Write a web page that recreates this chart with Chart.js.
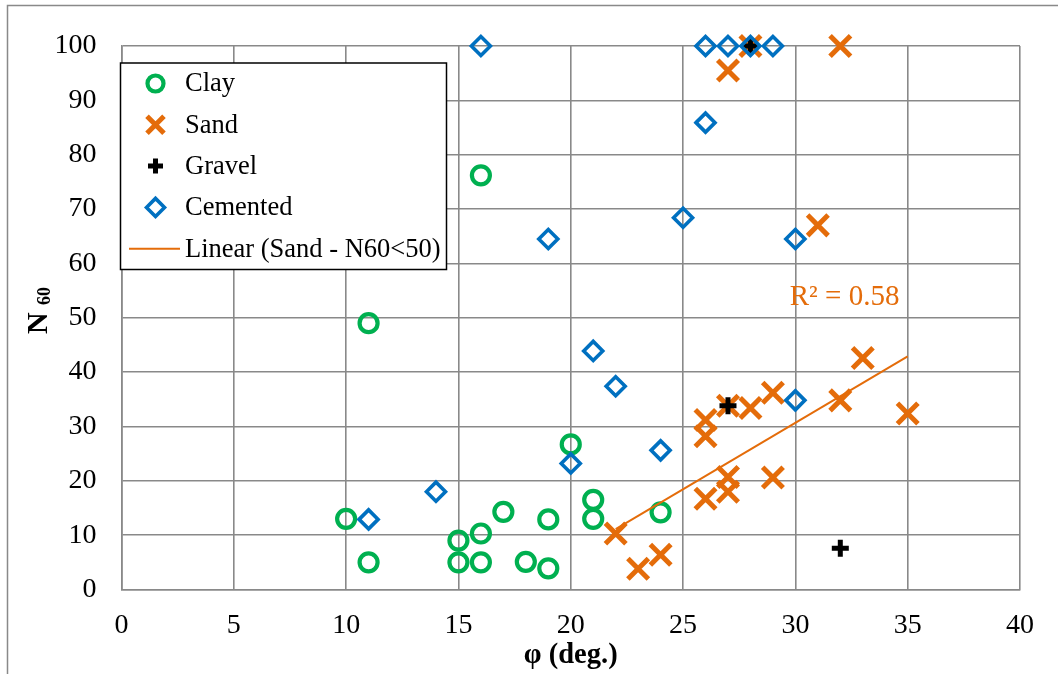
<!DOCTYPE html>
<html>
<head>
<meta charset="utf-8">
<script src="https://cdn.jsdelivr.net/npm/chart.js"></script>
<style>
  html, body { margin: 0; padding: 0; background: #fff; }
  #wrap { width: 1058px; height: 674px; }
</style>
</head>
<body>
<div id="wrap"><canvas id="chart" width="1058" height="674"></canvas></div>
<script>
"use strict";

// data
var clayPhi = [10, 11, 11, 15, 15, 16, 16, 16, 17, 18, 19, 19, 20, 21, 21, 24];
var clayN   = [13, 5, 49, 9, 5, 10.3, 5, 76.2, 14.3, 5.1, 3.9, 12.9, 26.7, 16.5, 13, 14.2];

var sandPhi = [22, 23, 24, 26, 26, 26, 27, 27, 27, 27, 28, 28, 29, 29, 31, 32, 32, 33, 35];
var sandN   = [10.3, 3.8, 6.4, 16.7, 28.2, 31.2, 18, 20.7, 33.8, 95.5, 33.4, 100, 36.2, 20.6, 67, 100, 34.8, 42.6, 32.4];

var gravelPhi = [27, 28, 32];
var gravelN   = [33.8, 100, 7.6];

var cementedPhi = [11, 14, 16, 19, 20, 21, 22, 24, 25, 26, 26, 27, 28, 29, 30, 30];
var cementedN   = [12.9, 18, 100, 64.5, 23.2, 43.9, 37.4, 25.6, 68.4, 85.9, 100, 100, 100, 100, 64.5, 34.8];

var trendPhi = [22, 35];
var trendN   = [11.1, 42.9];

var r2Label = "R² = 0.58";
var xTicksStep = 5;
var yTicksStep = 10;

var FONT = "'Liberation Serif', 'Times New Roman', serif";
var GRID = "#898989";
var GREEN = "#00b050";
var ORANGE = "#e46c0a";
var BLUE = "#0070c0";

function points(xs, ys) {
    return xs.map(function(x, i) { return { x: x, y: ys[i] }; });
}

// frame, legend, y title and R² text
var decorations = {
    id: "decorations",
    beforeDraw: function(chart) {
        var ctx = chart.ctx;
        ctx.save();
        ctx.fillStyle = "#fff";
        ctx.fillRect(0, 0, chart.width, chart.height);
        ctx.strokeStyle = GRID;
        ctx.lineWidth = 1.5;
        ctx.strokeRect(7.5, 5.5, chart.width + 20, chart.height + 20);
        ctx.restore();
    },
    afterDraw: function(chart) {
        var ctx = chart.ctx;
        var xs = chart.scales.x, ys = chart.scales.y;

        // R² label
        ctx.save();
        ctx.font = "29px " + FONT;
        ctx.fillStyle = ORANGE;
        ctx.textAlign = "left";
        ctx.textBaseline = "middle";
        ctx.fillText(r2Label, xs.getPixelForValue(29.75), ys.getPixelForValue(53.8));
        ctx.restore();

        // y title N60
        ctx.save();
        ctx.translate(47, 334);
        ctx.rotate(-Math.PI / 2);
        ctx.fillStyle = "#000";
        ctx.textAlign = "left";
        ctx.textBaseline = "alphabetic";
        ctx.font = "bold 30px " + FONT;
        ctx.fillText("N", 0, 0);
        ctx.font = "bold 18px " + FONT;
        ctx.fillText("60", 29, 3);
        ctx.restore();

        // legend
        var box = { left: 120.5, top: 63, right: 446.5, bottom: 269.5 };
        ctx.save();
        ctx.fillStyle = "#fff";
        ctx.fillRect(box.left, box.top, box.right - box.left, box.bottom - box.top);
        ctx.strokeStyle = "#000";
        ctx.lineWidth = 1.5;
        ctx.strokeRect(box.left, box.top, box.right - box.left, box.bottom - box.top);
        ctx.font = "26.5px " + FONT;
        ctx.textBaseline = "middle";
        chart.data.datasets.forEach(function(ds, i) {
            var y = 83.5 + i * 41.3;
            if (ds.showLine) {
                ctx.strokeStyle = ds.borderColor;
                ctx.lineWidth = ds.borderWidth;
                ctx.beginPath();
                ctx.moveTo(129, y);
                ctx.lineTo(180, y);
                ctx.stroke();
            } else {
                ctx.strokeStyle = ds.pointBorderColor;
                ctx.fillStyle = "rgba(0,0,0,0)";
                ctx.lineWidth = ds.pointBorderWidth;
                Chart.helpers.drawPoint(ctx, {
                    pointStyle: ds.pointStyle,
                    radius: ds.legendRadius,
                    borderWidth: ds.pointBorderWidth,
                    rotation: 0
                }, 155.5, y);
            }
            ctx.fillStyle = "#000";
            ctx.fillText(ds.label, 185, y + 1);
        });
        ctx.restore();
    }
};

new Chart(document.getElementById("chart"), {
    type: "scatter",
    data: {
        datasets: [
            {
                label: "Clay",
                data: points(clayPhi, clayN),
                pointStyle: "circle",
                pointRadius: 9,
                legendRadius: 8,
                pointBorderWidth: 4.2,
                pointBorderColor: GREEN,
                pointBackgroundColor: "rgba(0,0,0,0)",
                order: 5,
                clip: false
            },
            {
                label: "Sand",
                data: points(sandPhi, sandN),
                pointStyle: "crossRot",
                pointRadius: 14.5,
                legendRadius: 12,
                pointBorderWidth: 5,
                pointBorderColor: ORANGE,
                pointBackgroundColor: ORANGE,
                order: 4,
                clip: false
            },
            {
                label: "Gravel",
                data: points(gravelPhi, gravelN),
                pointStyle: "cross",
                pointRadius: 8.5,
                legendRadius: 7.5,
                pointBorderWidth: 5,
                pointBorderColor: "#000",
                pointBackgroundColor: "#000",
                order: 3,
                clip: false
            },
            {
                label: "Cemented",
                data: points(cementedPhi, cementedN),
                pointStyle: "rectRot",
                pointRadius: 9.5,
                legendRadius: 9,
                pointBorderWidth: 3.6,
                pointBorderColor: BLUE,
                pointBackgroundColor: "rgba(0,0,0,0)",
                order: 2,
                clip: false
            },
            {
                label: "Linear (Sand - N60<50)",
                data: points(trendPhi, trendN),
                showLine: true,
                borderColor: ORANGE,
                borderWidth: 2,
                pointRadius: 0,
                order: 1
            }
        ]
    },
    options: {
        responsive: false,
        animation: false,
        devicePixelRatio: 1,
        layout: { padding: { left: 0, top: 46, right: 38, bottom: 0 } },
        plugins: {
            legend: { display: false },
            tooltip: { enabled: false }
        },
        scales: {
            x: {
                type: "linear",
                min: 0,
                max: 40,
                afterFit: function(s) { s.height = 84.5; },
                ticks: {
                    stepSize: xTicksStep,
                    color: "#000",
                    padding: 19,
                    font: { family: FONT, size: 28 }
                },
                grid: { color: GRID, lineWidth: 1.6, drawTicks: false },
                border: { color: GRID, width: 1.6 },
                title: {
                    display: true,
                    text: "φ (deg.)",
                    color: "#000",
                    padding: { top: 0, bottom: 1 },
                    font: { family: FONT, size: 28.5, weight: "bold" }
                }
            },
            y: {
                type: "linear",
                min: 0,
                max: 100,
                afterFit: function(s) { s.width = 121.5; },
                ticks: {
                    stepSize: yTicksStep,
                    color: "#000",
                    padding: 25,
                    font: { family: FONT, size: 28 }
                },
                grid: { color: GRID, lineWidth: 1.6, drawTicks: false },
                border: { color: GRID, width: 1.6 }
            }
        }
    },
    plugins: [decorations]
});
</script>
</body>
</html>
